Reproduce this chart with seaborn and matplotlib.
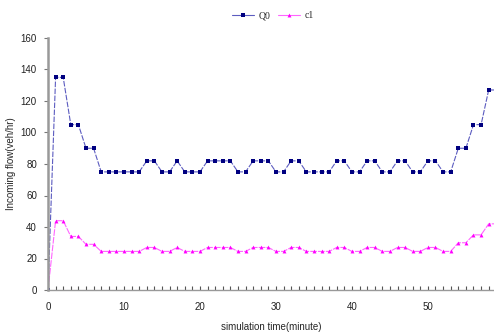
import matplotlib
matplotlib.use("Agg")
import matplotlib.pyplot as plt
from matplotlib.ticker import MultipleLocator
from matplotlib.lines import Line2D
import seaborn as sns
import pandas as pd

minutes = list(range(0, 60))
q0 = [0, 135, 135, 105, 105, 90, 90, 75, 75, 75,
      75, 75, 75, 82, 82, 75, 75, 82, 75, 75,
      75, 82, 82, 82, 82, 75, 75, 82, 82, 82,
      75, 75, 82, 82, 75, 75, 75, 75, 82, 82,
      75, 75, 82, 82, 75, 75, 82, 82, 75, 75,
      82, 82, 75, 75, 90, 90, 105, 105, 127, 127]
c1 = [0, 44, 44, 34, 34, 29, 29, 24.5, 24.5, 24.5,
      24.5, 24.5, 24.5, 27, 27, 24.5, 24.5, 27, 24.5, 24.5,
      24.5, 27, 27, 27, 27, 24.5, 24.5, 27, 27, 27,
      24.5, 24.5, 27, 27, 24.5, 24.5, 24.5, 24.5, 27, 27,
      24.5, 24.5, 27, 27, 24.5, 24.5, 27, 27, 24.5, 24.5,
      27, 27, 24.5, 24.5, 30, 30, 35, 35, 42, 42]
series_names = ["Q0", "c1"]
y_ticks = [0, 20, 40, 60, 80, 100, 120, 140, 160]
x_ticks = [0, 10, 20, 30, 40, 50]

df = pd.DataFrame({
    "minute": minutes * 2,
    "flow": q0 + c1,
    "series": [series_names[0]] * len(q0) + [series_names[1]] * len(c1),
})

sns.set_style("white")
plt.rcParams["font.family"] = ["Liberation Sans", "DejaVu Sans"]

fig = plt.figure(figsize=(4.94, 3.34), dpi=100)
ax = fig.add_axes([48 / 494, 1 - 290 / 334, (494 - 48) / 494, (290 - 38) / 334])

line_colors = {"Q0": "#5c5cc0", "c1": "#ff66ff"}
marker_colors = ["#000080", "#ff00ff"]
markers = {"Q0": "s", "c1": "^"}
dashes = {"Q0": (5, 1.3), "c1": (6, 1.0)}
sns.lineplot(data=df, x="minute", y="flow", hue="series", style="series",
             palette=line_colors, markers=markers, dashes=dashes,
             markersize=2.8, linewidth=0.8, markeredgewidth=0,
             ax=ax, legend=False)
for line, c in zip(ax.lines, marker_colors):
    line.set_markerfacecolor(c)
    line.set_markeredgecolor(c)

ax.set_xlim(0, 58.7)
ax.set_ylim(0, 160)
ax.set_yticks(y_ticks)
ax.set_xticks(x_ticks)
ax.xaxis.set_minor_locator(MultipleLocator(1))
ax.tick_params(axis="x", which="both", direction="in", length=3, width=0.8,
               colors="#555555", labelcolor="#222222", labelsize=7, pad=9, bottom=True)
ax.tick_params(axis="y", which="both", direction="out", length=3, width=0.8,
               colors="#777777", labelcolor="#222222", labelsize=7, pad=5, left=True)

for s in ["top", "right"]:
    ax.spines[s].set_visible(False)
ax.spines["left"].set_color("#999999")
ax.spines["left"].set_linewidth(1.8)
ax.spines["bottom"].set_color("#999999")
ax.spines["bottom"].set_linewidth(1.0)

ax.set_xlabel("simulation time(minute)", fontsize=7, labelpad=7)
ax.set_ylabel("Incoming flow(veh/hr)", fontsize=7, labelpad=3)

handles = [Line2D([], [], color=line_colors["Q0"], marker="s", markersize=2.8,
                  markerfacecolor=marker_colors[0], markeredgewidth=0, lw=0.8),
           Line2D([], [], color=line_colors["c1"], marker="^", markersize=2.8,
                  markerfacecolor=marker_colors[1], markeredgewidth=0, lw=0.8)]
fig.legend(handles, series_names, loc="center", bbox_to_anchor=(273 / 494, 1 - 16 / 334),
           ncol=2, frameon=False, handlelength=2.2, handletextpad=0.5,
           columnspacing=0.8, prop={"family": "Liberation Serif", "size": 7})

fig.savefig("out.png", dpi=100)
